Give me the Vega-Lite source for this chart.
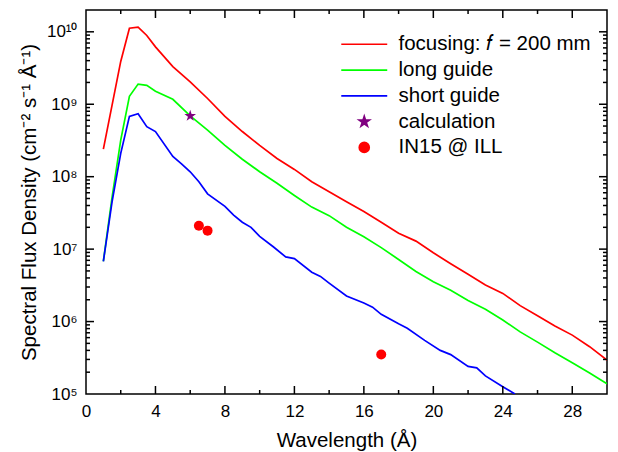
{
  "$schema": "https://vega.github.io/schema/vega-lite/v6.json",
  "autosize": "none",
  "width": 521,
  "height": 384,
  "padding": {"left": 86, "top": 10, "right": 11, "bottom": 58},
  "background": "white",
  "config": {
    "font": "Liberation Sans",
    "view": {"stroke": "black", "strokeWidth": 1.5},
    "axis": {"domain": false, "grid": false, "ticks": false, "labelColor": "black", "titleColor": "black", "labelFont": "Liberation Sans", "titleFont": "Liberation Sans", "labelFontSize": 17, "titleFontSize": 20.5, "titleFontWeight": "normal"}
  },
  "datasets": {
    "lines": [
      {"lam": 1, "flux": 2.4e8, "series": "focusing: f = 200 mm"},
      {"lam": 2, "flux": 3.9e9, "series": "focusing: f = 200 mm"},
      {"lam": 2.5, "flux": 1.12e10, "series": "focusing: f = 200 mm"},
      {"lam": 3, "flux": 1.16e10, "series": "focusing: f = 200 mm"},
      {"lam": 3.5, "flux": 8.9e9, "series": "focusing: f = 200 mm"},
      {"lam": 4, "flux": 6.2e9, "series": "focusing: f = 200 mm"},
      {"lam": 5, "flux": 3.3e9, "series": "focusing: f = 200 mm"},
      {"lam": 6, "flux": 2.04e9, "series": "focusing: f = 200 mm"},
      {"lam": 7, "flux": 1.2e9, "series": "focusing: f = 200 mm"},
      {"lam": 8, "flux": 6.8e8, "series": "focusing: f = 200 mm"},
      {"lam": 9, "flux": 4.2e8, "series": "focusing: f = 200 mm"},
      {"lam": 10, "flux": 2.7e8, "series": "focusing: f = 200 mm"},
      {"lam": 11, "flux": 1.78e8, "series": "focusing: f = 200 mm"},
      {"lam": 12, "flux": 1.26e8, "series": "focusing: f = 200 mm"},
      {"lam": 13, "flux": 8.5e7, "series": "focusing: f = 200 mm"},
      {"lam": 14, "flux": 6.2e7, "series": "focusing: f = 200 mm"},
      {"lam": 15, "flux": 4.5e7, "series": "focusing: f = 200 mm"},
      {"lam": 16, "flux": 3.3e7, "series": "focusing: f = 200 mm"},
      {"lam": 17, "flux": 2.35e7, "series": "focusing: f = 200 mm"},
      {"lam": 18, "flux": 1.66e7, "series": "focusing: f = 200 mm"},
      {"lam": 19, "flux": 1.29e7, "series": "focusing: f = 200 mm"},
      {"lam": 20, "flux": 8.9e6, "series": "focusing: f = 200 mm"},
      {"lam": 21, "flux": 6.3e6, "series": "focusing: f = 200 mm"},
      {"lam": 22, "flux": 4.5e6, "series": "focusing: f = 200 mm"},
      {"lam": 23, "flux": 3.2e6, "series": "focusing: f = 200 mm"},
      {"lam": 24, "flux": 2.45e6, "series": "focusing: f = 200 mm"},
      {"lam": 25, "flux": 1.66e6, "series": "focusing: f = 200 mm"},
      {"lam": 26, "flux": 1.2e6, "series": "focusing: f = 200 mm"},
      {"lam": 27, "flux": 8.7e5, "series": "focusing: f = 200 mm"},
      {"lam": 28, "flux": 6.5e5, "series": "focusing: f = 200 mm"},
      {"lam": 29, "flux": 4.5e5, "series": "focusing: f = 200 mm"},
      {"lam": 30, "flux": 2.95e5, "series": "focusing: f = 200 mm"},
      {"lam": 1, "flux": 6.8e6, "series": "long guide"},
      {"lam": 1.5, "flux": 5.2e7, "series": "long guide"},
      {"lam": 2, "flux": 3.2e8, "series": "long guide"},
      {"lam": 2.5, "flux": 1.29e9, "series": "long guide"},
      {"lam": 3, "flux": 1.9e9, "series": "long guide"},
      {"lam": 3.5, "flux": 1.82e9, "series": "long guide"},
      {"lam": 4, "flux": 1.51e9, "series": "long guide"},
      {"lam": 5, "flux": 1.17e9, "series": "long guide"},
      {"lam": 6, "flux": 6.9e8, "series": "long guide"},
      {"lam": 7, "flux": 4.4e8, "series": "long guide"},
      {"lam": 8, "flux": 2.7e8, "series": "long guide"},
      {"lam": 9, "flux": 1.74e8, "series": "long guide"},
      {"lam": 10, "flux": 1.17e8, "series": "long guide"},
      {"lam": 11, "flux": 8.1e7, "series": "long guide"},
      {"lam": 12, "flux": 5.5e7, "series": "long guide"},
      {"lam": 13, "flux": 3.8e7, "series": "long guide"},
      {"lam": 14, "flux": 2.9e7, "series": "long guide"},
      {"lam": 15, "flux": 2.0e7, "series": "long guide"},
      {"lam": 16, "flux": 1.48e7, "series": "long guide"},
      {"lam": 17, "flux": 1.05e7, "series": "long guide"},
      {"lam": 18, "flux": 7.2e6, "series": "long guide"},
      {"lam": 19, "flux": 4.9e6, "series": "long guide"},
      {"lam": 20, "flux": 3.55e6, "series": "long guide"},
      {"lam": 21, "flux": 2.7e6, "series": "long guide"},
      {"lam": 22, "flux": 1.95e6, "series": "long guide"},
      {"lam": 23, "flux": 1.48e6, "series": "long guide"},
      {"lam": 24, "flux": 1.05e6, "series": "long guide"},
      {"lam": 25, "flux": 7.2e5, "series": "long guide"},
      {"lam": 26, "flux": 5.2e5, "series": "long guide"},
      {"lam": 27, "flux": 3.7e5, "series": "long guide"},
      {"lam": 28, "flux": 2.7e5, "series": "long guide"},
      {"lam": 29, "flux": 1.95e5, "series": "long guide"},
      {"lam": 30, "flux": 1.38e5, "series": "long guide"},
      {"lam": 1, "flux": 6.8e6, "series": "short guide"},
      {"lam": 1.5, "flux": 4.5e7, "series": "short guide"},
      {"lam": 2, "flux": 2.1e8, "series": "short guide"},
      {"lam": 2.5, "flux": 6.8e8, "series": "short guide"},
      {"lam": 3, "flux": 7.4e8, "series": "short guide"},
      {"lam": 3.5, "flux": 4.9e8, "series": "short guide"},
      {"lam": 4, "flux": 4.2e8, "series": "short guide"},
      {"lam": 5, "flux": 1.9e8, "series": "short guide"},
      {"lam": 5.5, "flux": 1.5e8, "series": "short guide"},
      {"lam": 6, "flux": 1.17e8, "series": "short guide"},
      {"lam": 6.5, "flux": 8.5e7, "series": "short guide"},
      {"lam": 7, "flux": 5.8e7, "series": "short guide"},
      {"lam": 8, "flux": 3.9e7, "series": "short guide"},
      {"lam": 8.5, "flux": 2.95e7, "series": "short guide"},
      {"lam": 9, "flux": 2.35e7, "series": "short guide"},
      {"lam": 9.5, "flux": 2.0e7, "series": "short guide"},
      {"lam": 10, "flux": 1.5e7, "series": "short guide"},
      {"lam": 10.8, "flux": 1.07e7, "series": "short guide"},
      {"lam": 11.5, "flux": 7.8e6, "series": "short guide"},
      {"lam": 12, "flux": 7.4e6, "series": "short guide"},
      {"lam": 13, "flux": 4.8e6, "series": "short guide"},
      {"lam": 13.5, "flux": 4.2e6, "series": "short guide"},
      {"lam": 14, "flux": 3.4e6, "series": "short guide"},
      {"lam": 15, "flux": 2.25e6, "series": "short guide"},
      {"lam": 16, "flux": 1.8e6, "series": "short guide"},
      {"lam": 16.5, "flux": 1.58e6, "series": "short guide"},
      {"lam": 17, "flux": 1.26e6, "series": "short guide"},
      {"lam": 18, "flux": 9.3e5, "series": "short guide"},
      {"lam": 18.5, "flux": 8.1e5, "series": "short guide"},
      {"lam": 19.5, "flux": 5.5e5, "series": "short guide"},
      {"lam": 20.4, "flux": 4.0e5, "series": "short guide"},
      {"lam": 21, "flux": 3.5e5, "series": "short guide"},
      {"lam": 22, "flux": 2.4e5, "series": "short guide"},
      {"lam": 22.5, "flux": 2.3e5, "series": "short guide"},
      {"lam": 23, "flux": 1.78e5, "series": "short guide"},
      {"lam": 24, "flux": 1.26e5, "series": "short guide"},
      {"lam": 24.7, "flux": 1.0e5, "series": "short guide"}
    ],
    "calc": [
      {"lam": 6, "flux": 6.9e8, "series": "calculation"}
    ],
    "meas": [
      {"lam": 6.5, "flux": 2.1e7, "series": "IN15 @ ILL"},
      {"lam": 7.0, "flux": 1.8e7, "series": "IN15 @ ILL"},
      {"lam": 17.0, "flux": 3.5e5, "series": "IN15 @ ILL"}
    ],
    "xticks": [
      {"pos": 2, "kind": "minor"}, {"pos": 4, "kind": "major"}, {"pos": 6, "kind": "minor"}, {"pos": 8, "kind": "major"},
      {"pos": 10, "kind": "minor"}, {"pos": 12, "kind": "major"}, {"pos": 14, "kind": "minor"}, {"pos": 16, "kind": "major"},
      {"pos": 18, "kind": "minor"}, {"pos": 20, "kind": "major"}, {"pos": 22, "kind": "minor"}, {"pos": 24, "kind": "major"},
      {"pos": 26, "kind": "minor"}, {"pos": 28, "kind": "major"}
    ],
    "yticks": [
      {"pos": 2e5, "kind": "minor"}, {"pos": 3e5, "kind": "minor"}, {"pos": 4e5, "kind": "minor"}, {"pos": 5e5, "kind": "minor"}, {"pos": 6e5, "kind": "minor"}, {"pos": 7e5, "kind": "minor"}, {"pos": 8e5, "kind": "minor"}, {"pos": 9e5, "kind": "minor"},
      {"pos": 1e6, "kind": "major"},
      {"pos": 2e6, "kind": "minor"}, {"pos": 3e6, "kind": "minor"}, {"pos": 4e6, "kind": "minor"}, {"pos": 5e6, "kind": "minor"}, {"pos": 6e6, "kind": "minor"}, {"pos": 7e6, "kind": "minor"}, {"pos": 8e6, "kind": "minor"}, {"pos": 9e6, "kind": "minor"},
      {"pos": 1e7, "kind": "major"},
      {"pos": 2e7, "kind": "minor"}, {"pos": 3e7, "kind": "minor"}, {"pos": 4e7, "kind": "minor"}, {"pos": 5e7, "kind": "minor"}, {"pos": 6e7, "kind": "minor"}, {"pos": 7e7, "kind": "minor"}, {"pos": 8e7, "kind": "minor"}, {"pos": 9e7, "kind": "minor"},
      {"pos": 1e8, "kind": "major"},
      {"pos": 2e8, "kind": "minor"}, {"pos": 3e8, "kind": "minor"}, {"pos": 4e8, "kind": "minor"}, {"pos": 5e8, "kind": "minor"}, {"pos": 6e8, "kind": "minor"}, {"pos": 7e8, "kind": "minor"}, {"pos": 8e8, "kind": "minor"}, {"pos": 9e8, "kind": "minor"},
      {"pos": 1e9, "kind": "major"},
      {"pos": 2e9, "kind": "minor"}, {"pos": 3e9, "kind": "minor"}, {"pos": 4e9, "kind": "minor"}, {"pos": 5e9, "kind": "minor"}, {"pos": 6e9, "kind": "minor"}, {"pos": 7e9, "kind": "minor"}, {"pos": 8e9, "kind": "minor"}, {"pos": 9e9, "kind": "minor"},
      {"pos": 1e10, "kind": "major"}
    ]
  },
  "resolve": {"axis": {"x": "independent", "y": "independent"}},
  "layer": [
    {
      "data": {"name": "lines"},
      "mark": {"type": "line", "strokeWidth": 1.7, "clip": true},
      "encoding": {
        "x": {"field": "lam", "type": "quantitative",
          "scale": {"domain": [0, 30], "nice": false, "zero": false},
          "axis": {"orient": "bottom", "values": [0, 4, 8, 12, 16, 20, 24, 28], "labelPadding": 9, "title": "Wavelength (Å)", "titlePadding": 11, "labelFlush": false}},
        "y": {"field": "flux", "type": "quantitative",
          "scale": {"type": "log", "domain": [1e5, 2e10], "nice": false},
          "axis": {"orient": "left", "values": [1e5, 1e6, 1e7, 1e8, 1e9, 1e10], "labelPadding": 9,
            "labelExpr": "'10' + ['⁰','¹','²','³','⁴','⁵','⁶','⁷','⁸','⁹','¹⁰'][round(log(datum.value)/LN10)]",
            "title": "Spectral Flux Density (cm⁻² s⁻¹ Å⁻¹)", "titlePadding": 7, "labelFlush": false}},
        "color": {"field": "series", "type": "nominal",
          "scale": {"domain": ["focusing: f = 200 mm", "long guide", "short guide", "calculation", "IN15 @ ILL"],
                    "range": ["#FF0000", "#00FF00", "#0000FF", "#800080", "#FF0000"]},
          "legend": {"title": null, "orient": "none", "legendX": 268, "legendY": 24, "padding": 0,
            "labelFontSize": 20.5, "labelFont": "Liberation Sans", "labelColor": "black", "labelLimit": 400,
            "symbolSize": 132, "labelOffset": 24, "rowPadding": 4.8,
            "labelExpr": "datum.label == 'focusing: f = 200 mm' ? 'focusing: 𝑓 = 200 mm' : datum.label",
            "encode": {"symbols": {"update": {
              "shape": {"signal": "datum.value === 'calculation' ? 'M0,-1L0.2245,-0.309L0.951,-0.309L0.363,0.118L0.588,0.809L0,0.382L-0.588,0.809L-0.363,0.118L-0.951,-0.309L-0.2245,-0.309Z' : datum.value === 'IN15 @ ILL' ? 'circle' : 'M-4,0L4,0'"},
              "size": {"signal": "datum.value === 'calculation' ? 115 : datum.value === 'IN15 @ ILL' ? 100 : 132"},
              "fill": {"signal": "datum.value === 'calculation' ? '#800080' : datum.value === 'IN15 @ ILL' ? '#FF0000' : 'transparent'"},
              "stroke": {"signal": "datum.value === 'calculation' || datum.value === 'IN15 @ ILL' ? 'transparent' : scale('color', datum.value)"},
              "strokeWidth": {"value": 1.7},
              "opacity": {"value": 1}
            }}}}
        }
      }
    },
    {
      "data": {"name": "calc"},
      "mark": {"type": "point", "shape": "M0,-1L0.2245,-0.309L0.951,-0.309L0.363,0.118L0.588,0.809L0,0.382L-0.588,0.809L-0.363,0.118L-0.951,-0.309L-0.2245,-0.309Z", "filled": true, "size": 150, "opacity": 1},
      "encoding": {
        "x": {"field": "lam", "type": "quantitative", "axis": null},
        "y": {"field": "flux", "type": "quantitative", "axis": null},
        "color": {"field": "series", "type": "nominal"}
      }
    },
    {
      "data": {"name": "meas"},
      "mark": {"type": "circle", "size": 100, "opacity": 1},
      "encoding": {
        "x": {"field": "lam", "type": "quantitative", "axis": null},
        "y": {"field": "flux", "type": "quantitative", "axis": null},
        "color": {"field": "series", "type": "nominal"}
      }
    },
    {
      "data": {"name": "xticks"},
      "transform": [{"filter": "datum.kind === 'major'"}],
      "mark": {"type": "rule", "color": "black", "strokeWidth": 1.5, "opacity": 1},
      "encoding": {
        "x": {"field": "pos", "type": "quantitative", "axis": null},
        "y": {"datum": 1e5, "type": "quantitative", "axis": null},
        "y2": {"datum": 1.29e5}
      }
    },
    {
      "data": {"name": "xticks"},
      "transform": [{"filter": "datum.kind === 'minor'"}],
      "mark": {"type": "rule", "color": "black", "strokeWidth": 1.5, "opacity": 1},
      "encoding": {
        "x": {"field": "pos", "type": "quantitative", "axis": null},
        "y": {"datum": 1e5, "type": "quantitative", "axis": null},
        "y2": {"datum": 1.136e5}
      }
    },
    {
      "data": {"name": "xticks"},
      "transform": [{"filter": "datum.kind === 'major'"}],
      "mark": {"type": "rule", "color": "black", "strokeWidth": 1.5, "opacity": 1},
      "encoding": {
        "x": {"field": "pos", "type": "quantitative", "axis": null},
        "y": {"datum": 2e10, "type": "quantitative", "axis": null},
        "y2": {"datum": 1.55e10}
      }
    },
    {
      "data": {"name": "xticks"},
      "transform": [{"filter": "datum.kind === 'minor'"}],
      "mark": {"type": "rule", "color": "black", "strokeWidth": 1.5, "opacity": 1},
      "encoding": {
        "x": {"field": "pos", "type": "quantitative", "axis": null},
        "y": {"datum": 2e10, "type": "quantitative", "axis": null},
        "y2": {"datum": 1.76e10}
      }
    },
    {
      "data": {"name": "yticks"},
      "transform": [{"filter": "datum.kind === 'major'"}],
      "mark": {"type": "rule", "color": "black", "strokeWidth": 1.5, "opacity": 1},
      "encoding": {
        "y": {"field": "pos", "type": "quantitative", "axis": null},
        "x": {"datum": 0, "type": "quantitative", "axis": null},
        "x2": {"datum": 0.46}
      }
    },
    {
      "data": {"name": "yticks"},
      "transform": [{"filter": "datum.kind === 'minor'"}],
      "mark": {"type": "rule", "color": "black", "strokeWidth": 1.5, "opacity": 1},
      "encoding": {
        "y": {"field": "pos", "type": "quantitative", "axis": null},
        "x": {"datum": 0, "type": "quantitative", "axis": null},
        "x2": {"datum": 0.23}
      }
    },
    {
      "data": {"name": "yticks"},
      "transform": [{"filter": "datum.kind === 'major'"}],
      "mark": {"type": "rule", "color": "black", "strokeWidth": 1.5, "opacity": 1},
      "encoding": {
        "y": {"field": "pos", "type": "quantitative", "axis": null},
        "x": {"datum": 30, "type": "quantitative", "axis": null},
        "x2": {"datum": 29.54}
      }
    },
    {
      "data": {"name": "yticks"},
      "transform": [{"filter": "datum.kind === 'minor'"}],
      "mark": {"type": "rule", "color": "black", "strokeWidth": 1.5, "opacity": 1},
      "encoding": {
        "y": {"field": "pos", "type": "quantitative", "axis": null},
        "x": {"datum": 30, "type": "quantitative", "axis": null},
        "x2": {"datum": 29.77}
      }
    }
  ]
}
